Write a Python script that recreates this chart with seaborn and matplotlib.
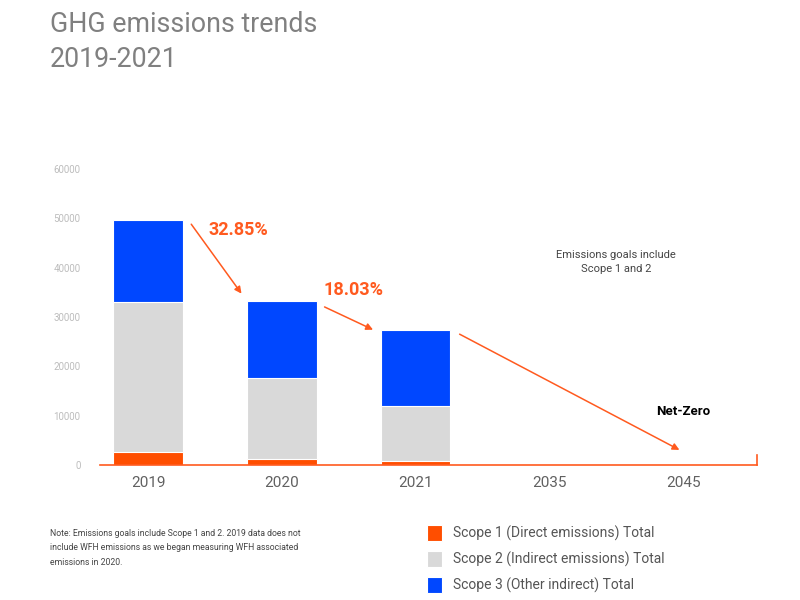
import pandas as pd
import matplotlib.pyplot as plt
import seaborn as sns

years = ["2019", "2020", "2021", "2035", "2045"]
scope1 = [2600, 1200, 800, 0, 0]
scope2 = [30400, 16500, 11100, 0, 0]
scope3 = [16600, 15600, 15400, 0, 0]
yticks = [0, 10000, 20000, 30000, 40000, 50000, 60000]
drops = ["32.85%", "18.03%"]

ORANGE = "#FF4E00"
GREY = "#D9D9D9"
BLUE = "#0047FF"
ARROW = "#FF5A1F"

df = pd.DataFrame({"Year": years, "s1": scope1, "s2": scope2, "s3": scope3})
df["s12"] = df["s1"] + df["s2"]
df["total"] = df["s12"] + df["s3"]

sns.set_style("white")
plt.rcParams["font.family"] = ["Roboto", "DejaVu Sans"]

fig = plt.figure(figsize=(8, 6), dpi=100)
ax = fig.add_axes([0.125, 0.225, 0.821, 0.493])

# stacked bars drawn back to front
bar_kw = dict(data=df, x="Year", order=years, width=0.52, saturation=1,
              linewidth=0, ax=ax)
sns.barplot(y="total", color=BLUE, label="Scope 3 (Other indirect) Total", **bar_kw)
sns.barplot(y="s12", color=GREY, label="Scope 2 (Indirect emissions) Total", **bar_kw)
sns.barplot(y="s1", color=ORANGE, label="Scope 1 (Direct emissions) Total", **bar_kw)
handles, labels = ax.get_legend_handles_labels()
if ax.get_legend() is not None:
    ax.get_legend().remove()

# thin white separators between stacked segments
for p in ax.patches:
    p.set_edgecolor("white")
    p.set_linewidth(0.8)

ax.set_xlim(-0.36, 4.55)
ax.set_ylim(0, 60000)
ax.set_yticks(yticks)
ax.set_yticklabels([str(v) for v in yticks], fontsize=7, color="#BDBDBD")
ax.tick_params(axis="y", length=10, width=0.8, color="#D5D5D5", pad=4)
ax.tick_params(axis="x", length=0, pad=8, labelsize=11, labelcolor="#616161")
ax.set_xlabel("")
ax.set_ylabel("")

ax.spines["top"].set_visible(False)
ax.spines["left"].set_visible(False)
ax.spines["bottom"].set_color(ARROW)
ax.spines["bottom"].set_linewidth(1.2)
ax.spines["right"].set_color(ARROW)
ax.spines["right"].set_linewidth(1.2)
ax.spines["right"].set_bounds(0, 2000)

# downward trend arrows between bar tops
tot = df["total"].tolist()
arrow_kw = dict(arrowstyle="-|>", color=ARROW, lw=1.1, mutation_scale=10)
ax.annotate("", xy=(1 - 0.29, tot[1] + 1000), xytext=(0 + 0.31, tot[0] - 300),
            arrowprops=arrow_kw)
ax.annotate("", xy=(2 - 0.30, tot[2] - 100), xytext=(1 + 0.30, tot[1] - 1000),
            arrowprops=arrow_kw)
ax.annotate("", xy=(3.99, 2800), xytext=(2 + 0.31, tot[2] - 500),
            arrowprops=arrow_kw)

ax.text(0.45, 47700, drops[0], color=ARROW, fontsize=13, fontweight="bold",
        ha="left", va="center")
ax.text(1.31, 35400, drops[1], color=ARROW, fontsize=13, fontweight="bold",
        ha="left", va="center")
ax.text(3.5, 41200, "Emissions goals include\nScope 1 and 2", color="#444444",
        fontsize=8, ha="center", va="center", linespacing=1.5)
ax.text(4.0, 10900, "Net-Zero", color="black", fontsize=9.5, fontweight="bold",
        ha="center", va="center")

fig.text(0.0625, 0.982, "GHG emissions trends\n2019-2021", color="#808080",
         fontsize=19.3, ha="left", va="top", linespacing=1.4)

fig.text(0.0625, 0.087, "Note: Emissions goals include Scope 1 and 2. 2019 data does not\n"
         "include WFH emissions as we began measuring WFH associated\n"
         "emissions in 2020.", color="#444444", fontsize=6.2, ha="left", va="center",
         linespacing=1.75)

handles, labels = handles[::-1], labels[::-1]
fig.legend(handles, labels, loc="upper left", bbox_to_anchor=(0.525, 0.137),
           frameon=False, fontsize=10, labelcolor="#555555", handlelength=1.1,
           handleheight=1.45, handletextpad=0.75, labelspacing=0.68, borderpad=0)

fig.savefig("out.png", dpi=100)
